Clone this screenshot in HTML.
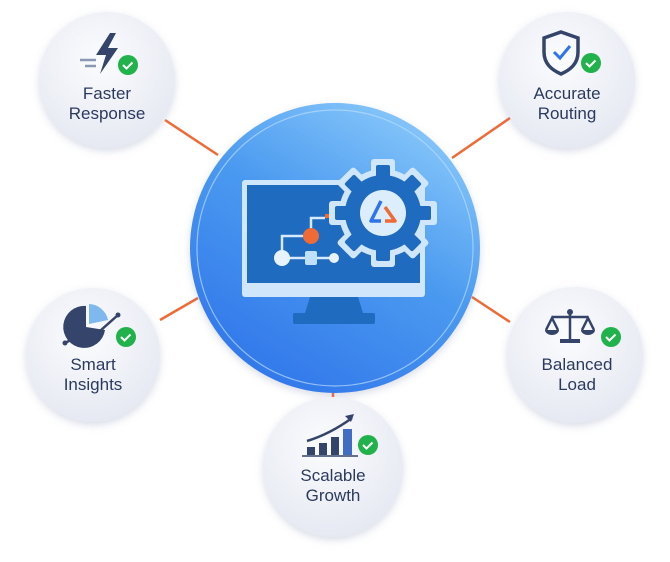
<!DOCTYPE html>
<html><head><meta charset="utf-8"><style>
html,body{margin:0;padding:0;background:#fff;width:670px;height:562px;overflow:hidden}
text{font-family:"Liberation Sans",sans-serif;font-size:17px;fill:#2b3a5e;text-anchor:middle}
</style></head><body>
<svg width="670" height="562" viewBox="0 0 670 562" xmlns="http://www.w3.org/2000/svg">
<defs>
<radialGradient id="sat" cx="45%" cy="35%" r="65%"><stop offset="0" stop-color="#fbfcfe"/><stop offset="1" stop-color="#e6e9f2"/></radialGradient>
<linearGradient id="main" x1="0.8" y1="0" x2="0.2" y2="1"><stop offset="0" stop-color="#8ccbfb"/><stop offset="0.45" stop-color="#4b9af0"/><stop offset="1" stop-color="#2f74ea"/></linearGradient>
<filter id="sh" x="-30%" y="-30%" width="160%" height="160%"><feDropShadow dx="0" dy="3" stdDeviation="4" flood-color="#8090b0" flood-opacity="0.3"/></filter>
</defs>
<g stroke="#f06a35" stroke-width="2.5">
<line x1="165" y1="120" x2="218" y2="155"/>
<line x1="510" y1="118" x2="452" y2="158"/>
<line x1="160" y1="320" x2="198" y2="298"/>
<line x1="510" y1="322" x2="472" y2="297"/>
<line x1="333" y1="390" x2="333" y2="402"/>
</g>
<g filter="url(#sh)">
<circle cx="107" cy="80" r="68" fill="url(#sat)"/>
<circle cx="567" cy="80" r="68" fill="url(#sat)"/>
<circle cx="93" cy="355" r="67" fill="url(#sat)"/>
<circle cx="575" cy="355" r="68" fill="url(#sat)"/>
<circle cx="333" cy="467" r="70" fill="url(#sat)"/>
<circle cx="335" cy="248" r="145" fill="url(#main)"/>
</g>
<circle cx="335" cy="248" r="138" fill="none" stroke="#b8dcfb" stroke-width="1.2" opacity="0.7"/>
<rect x="242" y="180" width="183" height="117" rx="3" fill="#cfe6fb"/>
<rect x="247" y="185" width="173" height="98" fill="#1f6bc0"/>
<path d="M310 297 L358 297 L363 313 L305 313Z" fill="#1f6bc0"/>
<rect x="293" y="313" width="82" height="11" rx="2" fill="#1f6bc0"/>
<g stroke="#d6eafc" stroke-width="2.5" fill="none">
<path d="M311 236 V218 H325"/><path d="M311 236 H282 V258"/><path d="M282 258 H336"/>
</g>
<rect x="325" y="214" width="6" height="4" fill="#f06a35"/>
<circle cx="311" cy="236" r="8" fill="#f06a35"/>
<circle cx="282" cy="258" r="8" fill="#e8f3fd"/>
<rect x="305" y="251" width="12" height="14" rx="2" fill="#bfe0fb"/>
<circle cx="334" cy="258" r="5" fill="#e8f3fd"/>
<g transform="translate(383,213)">
<g fill="#cfe6fb">
<circle r="44"/>
<rect x="-12" y="-54" width="24" height="20" rx="3"/>
<rect x="-12" y="-54" width="24" height="20" rx="3" transform="rotate(45)"/>
<rect x="-12" y="-54" width="24" height="20" rx="3" transform="rotate(90)"/>
<rect x="-12" y="-54" width="24" height="20" rx="3" transform="rotate(135)"/>
<rect x="-12" y="-54" width="24" height="20" rx="3" transform="rotate(180)"/>
<rect x="-12" y="-54" width="24" height="20" rx="3" transform="rotate(225)"/>
<rect x="-12" y="-54" width="24" height="20" rx="3" transform="rotate(270)"/>
<rect x="-12" y="-54" width="24" height="20" rx="3" transform="rotate(315)"/>
</g>
<g fill="#1f6bc0">
<circle r="38"/>
<rect x="-7" y="-48" width="14" height="16" rx="2"/>
<rect x="-7" y="-48" width="14" height="16" rx="2" transform="rotate(45)"/>
<rect x="-7" y="-48" width="14" height="16" rx="2" transform="rotate(90)"/>
<rect x="-7" y="-48" width="14" height="16" rx="2" transform="rotate(135)"/>
<rect x="-7" y="-48" width="14" height="16" rx="2" transform="rotate(180)"/>
<rect x="-7" y="-48" width="14" height="16" rx="2" transform="rotate(225)"/>
<rect x="-7" y="-48" width="14" height="16" rx="2" transform="rotate(270)"/>
<rect x="-7" y="-48" width="14" height="16" rx="2" transform="rotate(315)"/>
</g>
<circle r="23" fill="#dcedfb"/>
<path d="M-2 -12 L-12 8 L-2 8" stroke="#2f74ea" stroke-width="3.5" fill="none" stroke-linejoin="round"/>
<path d="M2 -6 L12 8 L2 8" stroke="#f06a35" stroke-width="3.5" fill="none" stroke-linejoin="round"/>
</g>
<path d="M110 33 L96 55 L106 55 L100 74 L118 48 L108 48 L116 33Z" fill="#34446a"/>
<g stroke="#8a98b4" stroke-width="2.5"><line x1="80" y1="60" x2="96" y2="60"/><line x1="85" y1="66" x2="96" y2="66"/></g>
<path d="M561 32 L578 38 V52 C578 64 570 70 561 74 C552 70 544 64 544 52 V38Z" fill="none" stroke="#34446a" stroke-width="3.5"/>
<path d="M554 52 L560 58 L570 46" fill="none" stroke="#2f74ea" stroke-width="3"/>
<path d="M86 306 A21 21 0 1 0 105 330 L86 327Z" fill="#34446a"/>
<path d="M89 304 L89 324 L108 320 A20 20 0 0 0 89 304Z" fill="#7fb8ef"/>
<path d="M65 343 L82 334 L92 338 L118 315" fill="none" stroke="#34446a" stroke-width="2.5"/>
<circle cx="65" cy="343" r="2.5" fill="#34446a"/><circle cx="118" cy="315" r="2.5" fill="#34446a"/>
<g stroke="#34446a" stroke-width="2.5" fill="none">
<line x1="570" y1="310" x2="570" y2="340"/><line x1="552" y1="317" x2="588" y2="317"/>
<path d="M546 330 L552 318 L558 330"/><path d="M582 330 L588 318 L594 330"/>
</g>
<path d="M545 330 H559 A7 5 0 0 1 545 330Z M581 330 H595 A7 5 0 0 1 581 330Z" fill="#34446a"/>
<rect x="560" y="339" width="20" height="4" fill="#34446a"/>
<circle cx="570" cy="312" r="3" fill="#34446a"/>
<g fill="#34446a"><rect x="307" y="447" width="8" height="8"/><rect x="319" y="443" width="8" height="12"/><rect x="331" y="437" width="8" height="18"/></g>
<rect x="343" y="429" width="9" height="26" fill="#3f6ec4"/>
<line x1="302" y1="456" x2="358" y2="456" stroke="#34446a" stroke-width="1.5"/>
<path d="M307 441 Q330 434 352 418" fill="none" stroke="#34446a" stroke-width="2.5"/>
<path d="M354 414 L345 416 L351 422Z" fill="#34446a"/>
<g>
<circle cx="128" cy="65" r="10" fill="#22b24c"/><circle cx="591" cy="63" r="10" fill="#22b24c"/>
<circle cx="126" cy="337" r="10" fill="#22b24c"/><circle cx="611" cy="337" r="10" fill="#22b24c"/>
<circle cx="368" cy="445" r="10" fill="#22b24c"/>
</g>
<g stroke="#fff" stroke-width="2" fill="none">
<path d="M123 65 l3.5 3.5 l6 -6"/><path d="M586 63 l3.5 3.5 l6 -6"/>
<path d="M121 337 l3.5 3.5 l6 -6"/><path d="M606 337 l3.5 3.5 l6 -6"/>
<path d="M363 445 l3.5 3.5 l6 -6"/>
</g>
<text x="107" y="99">Faster</text><text x="107" y="119">Response</text>
<text x="567" y="99">Accurate</text><text x="567" y="119">Routing</text>
<text x="93" y="370">Smart</text><text x="93" y="390">Insights</text>
<text x="577" y="370">Balanced</text><text x="577" y="390">Load</text>
<text x="333" y="481">Scalable</text><text x="333" y="501">Growth</text>
</svg>
</body></html>
